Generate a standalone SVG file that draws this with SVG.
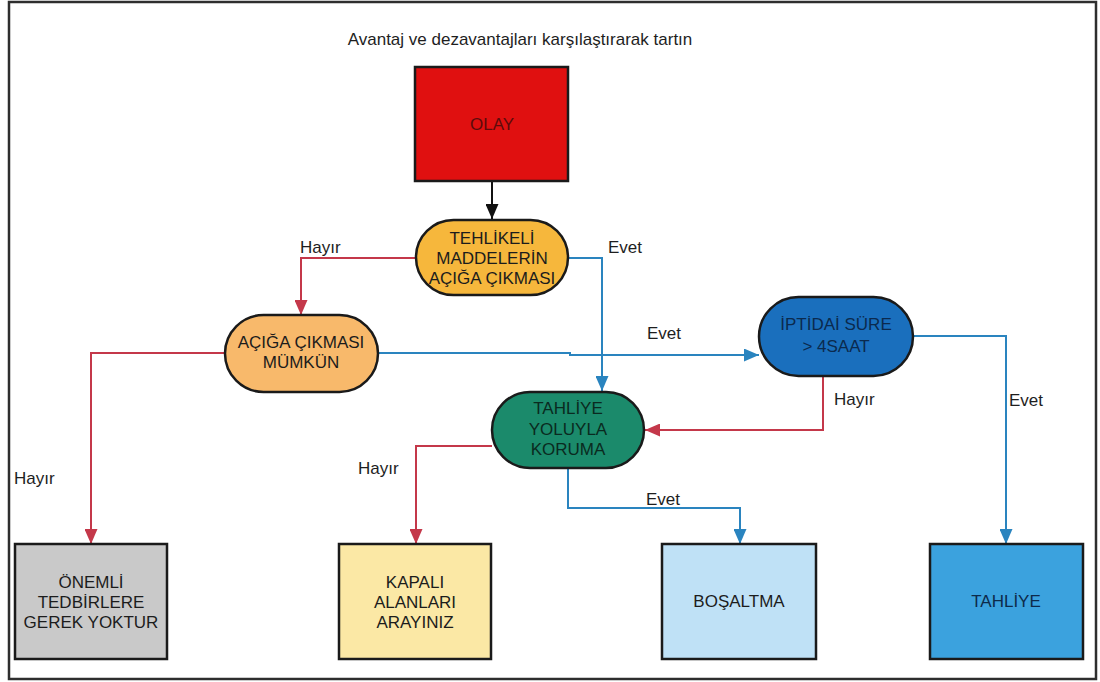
<svg xmlns="http://www.w3.org/2000/svg" width="1100" height="682" viewBox="0 0 1100 682">
<style>
  .nt { font-family: "Liberation Sans", Arial, sans-serif; font-size: 17px; text-anchor: middle; fill: #1c1c1c; }
  .lb { font-family: "Liberation Sans", Arial, sans-serif; font-size: 17px; fill: #1e1e1e; }
  .ttl { font-family: "Liberation Sans", Arial, sans-serif; font-size: 17px; text-anchor: middle; fill: #1e1e1e; }
  .box { stroke: #1a1a1a; stroke-width: 2.5; }
  .red { fill: none; stroke: #c4384a; stroke-width: 2; }
  .blue { fill: none; stroke: #2a84bf; stroke-width: 2; }
  .blk { fill: none; stroke: #111; stroke-width: 2; }
</style>
<defs>
  <marker id="aRed" markerUnits="userSpaceOnUse" markerWidth="15" markerHeight="13" refX="15" refY="6.5" orient="auto">
    <path d="M0,0 L15,6.5 L0,13 Z" fill="#c4384a"/>
  </marker>
  <marker id="aBlue" markerUnits="userSpaceOnUse" markerWidth="15" markerHeight="13" refX="15" refY="6.5" orient="auto">
    <path d="M0,0 L15,6.5 L0,13 Z" fill="#2a84bf"/>
  </marker>
  <marker id="aBlk" markerUnits="userSpaceOnUse" markerWidth="15" markerHeight="13" refX="15" refY="6.5" orient="auto">
    <path d="M0,0 L15,6.5 L0,13 Z" fill="#111"/>
  </marker>
</defs>
<rect x="0" y="0" width="1100" height="682" fill="#ffffff"/>
<rect x="9" y="2" width="1087" height="677" fill="#ffffff" stroke="#2e2e2e" stroke-width="2.5"/>
<text class="ttl" x="520" y="45">Avantaj ve dezavantajları karşılaştırarak tartın</text>

<g id="connectors">
  <path class="blk" d="M492,182 V219" marker-end="url(#aBlk)"/>
  <path class="red" d="M416,258 H301 V315" marker-end="url(#aRed)"/>
  <path class="blue" d="M568,258 H602 V391" marker-end="url(#aBlue)"/>
  <path class="red" d="M225,353 H91 V544" marker-end="url(#aRed)"/>
  <path class="blue" d="M378,353 H570 V355 H759" marker-end="url(#aBlue)"/>
  <path class="blue" d="M913,336 H1006 V544" marker-end="url(#aBlue)"/>
  <path class="red" d="M823,376 V430 H645" marker-end="url(#aRed)"/>
  <path class="red" d="M492,446 H416 V544" marker-end="url(#aRed)"/>
  <path class="blue" d="M568,468 V508 H740 V544" marker-end="url(#aBlue)"/>
  <text class="lb" x="300" y="253">Hayır</text>
  <text class="lb" x="608" y="253">Evet</text>
  <text class="lb" x="647" y="339">Evet</text>
  <text class="lb" x="834" y="405">Hayır</text>
  <text class="lb" x="1009" y="406">Evet</text>
  <text class="lb" x="14" y="484">Hayır</text>
  <text class="lb" x="358" y="474">Hayır</text>
  <text class="lb" x="646" y="505">Evet</text>
</g>

<g id="olay">
  <rect class="box" x="415" y="67" width="153" height="114" fill="#e01010" stroke="#4a0a0a"/>
  <text class="nt" x="492" y="130" style="fill:#5c0b0b">OLAY</text>
</g>
<g id="tehlikeli">
  <rect class="box" x="416" y="220" width="152" height="75" rx="37.5" fill="#f6b73c"/>
  <text class="nt" x="492" y="244">TEHLİKELİ</text>
  <text class="nt" x="492" y="264">MADDELERİN</text>
  <text class="nt" x="492" y="284">AÇIĞA ÇIKMASI</text>
</g>
<g id="acigacikmasi">
  <rect class="box" x="225" y="315" width="153" height="77" rx="38.5" fill="#f8b96b"/>
  <text class="nt" x="301" y="348">AÇIĞA ÇIKMASI</text>
  <text class="nt" x="301" y="368">MÜMKÜN</text>
</g>
<g id="iptidai">
  <rect class="box" x="759" y="297" width="154" height="79" rx="39.5" fill="#1a6fbd"/>
  <text class="nt" x="836" y="330" style="fill:#0b2a4e">İPTİDAİ SÜRE</text>
  <text class="nt" x="836" y="352" style="fill:#0b2a4e">&gt; 4SAAT</text>
</g>
<g id="tahliyeyoluyla">
  <rect class="box" x="492" y="392" width="152" height="76" rx="38" fill="#1b8a6b"/>
  <text class="nt" x="568" y="414" style="fill:#0a2a20">TAHLİYE</text>
  <text class="nt" x="568" y="435" style="fill:#0a2a20">YOLUYLA</text>
  <text class="nt" x="568" y="455" style="fill:#0a2a20">KORUMA</text>
</g>
<g id="onemli">
  <rect class="box" x="15" y="544" width="152" height="115" fill="#c9c9c9"/>
  <text class="nt" x="91" y="588">ÖNEMLİ</text>
  <text class="nt" x="91" y="608">TEDBİRLERE</text>
  <text class="nt" x="91" y="628">GEREK YOKTUR</text>
</g>
<g id="kapali">
  <rect class="box" x="339" y="544" width="152" height="115" fill="#fbe8a5"/>
  <text class="nt" x="415" y="588">KAPALI</text>
  <text class="nt" x="415" y="608">ALANLARI</text>
  <text class="nt" x="415" y="628">ARAYINIZ</text>
</g>
<g id="bosaltma">
  <rect class="box" x="662" y="544" width="154" height="115" fill="#bfe1f6"/>
  <text class="nt" x="739" y="607">BOŞALTMA</text>
</g>
<g id="tahliye">
  <rect class="box" x="930" y="544" width="153" height="115" fill="#3ba2de"/>
  <text class="nt" x="1006" y="607" style="fill:#0d2a4a">TAHLİYE</text>
</g>
</svg>
